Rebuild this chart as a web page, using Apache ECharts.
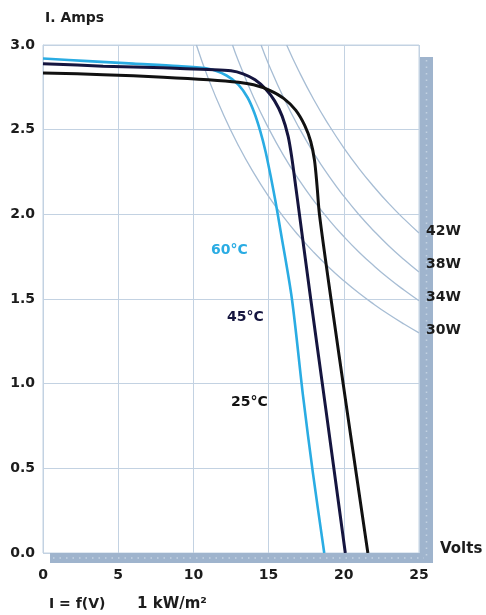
<!DOCTYPE html>
<html><head><meta charset="utf-8">
<script src="https://cdn.jsdelivr.net/npm/echarts@6/dist/echarts.min.js"></script>
<style>html,body{margin:0;padding:0;background:#fff}#c{width:486px;height:615px}</style>
</head><body><div id="c"></div>
<script>
// ---- data (Volts, Amps) ----
const xTicks = [0, 5, 10, 15, 20, 25];
const yTicks = [0, 0.5, 1.0, 1.5, 2.0, 2.5, 3.0];
const tempNames = ['25°C', '45°C', '60°C'];
const curve25 = [[0,2.835],[4,2.825],[8,2.81],[11,2.795],[13,2.78],[14,2.765],[15,2.735],[16,2.685],[16.8,2.615],[17.4,2.525],[17.8,2.43],[18.05,2.32],[18.22,2.17],[18.38,2.0],[19.15,1.5],[20.25,0.82],[21.6,0]];
const curve45 = [[0,2.89],[4,2.875],[8,2.865],[11,2.855],[12.5,2.848],[13.3,2.83],[14.1,2.795],[14.8,2.74],[15.4,2.67],[15.9,2.58],[16.3,2.46],[16.55,2.33],[16.75,2.2],[16.9,2.1],[17.8,1.5],[18.85,0.82],[20.1,0]];
const curve60 = [[0,2.92],[3,2.905],[6,2.89],[9,2.875],[11,2.86],[12.2,2.82],[13.0,2.765],[13.6,2.69],[14.05,2.6],[14.45,2.49],[14.8,2.37],[15.15,2.22],[15.45,2.08],[15.8,1.9],[16.55,1.5],[17.3,0.92],[17.95,0.47],[18.7,0]];
const powerNames = ['30W', '34W', '38W', '42W'];
const power30 = [[10.2,3.0],[11,2.8],[12,2.588],[13,2.405],[14,2.246],[15,2.106],[16,1.983],[17,1.874],[18,1.776],[19,1.688],[20,1.608],[21,1.535],[22,1.469],[23,1.408],[24,1.352],[25,1.3]];
const power34 = [[12.6,3.0],[13,2.904],[14,2.691],[15,2.508],[16,2.347],[17,2.206],[18,2.081],[19,1.969],[20,1.869],[21,1.778],[22,1.696],[23,1.621],[24,1.553],[25,1.49]];
const power38 = [[14.5,3.0],[15,2.887],[16,2.688],[17,2.515],[18,2.362],[19,2.227],[20,2.107],[21,1.999],[22,1.902],[23,1.813],[24,1.733],[25,1.659]];
const power42 = [[16.2,3.0],[17,2.848],[18,2.678],[19,2.528],[20,2.393],[21,2.272],[22,2.163],[23,2.063],[24,1.973],[25,1.89]];

const FONT = 'DejaVu Sans';
const GRID = '#c3d2e2';
const BAR = '#9fb4cd';
const INK = '#1c1c1c';
const chart = echarts.init(document.getElementById('c'), null, {renderer: 'canvas'});

function powerSeries(name, data) {
  return {name, type: 'line', data, showSymbol: false, smooth: 0.5,
    lineStyle: {color: '#a7bdd4', width: 1.3}, z: 2, silent: true};
}
function ivSeries(name, data, color, w) {
  return {name, type: 'line', data, showSymbol: false, smooth: 0.3,
    lineStyle: {color, width: w}, z: 5, silent: true};
}

chart.setOption({
  animation: false,
  backgroundColor: '#fff',
  grid: {left: 43, right: 67, top: 45, bottom: 62, show: true, borderColor: GRID, borderWidth: 1},
  xAxis: {type: 'value', min: 0, max: 25, interval: 5,
    axisLine: {show: false}, axisTick: {show: false},
    splitLine: {show: true, lineStyle: {color: GRID, width: 1}},
    axisLabel: {margin: 15, color: INK, fontFamily: FONT, fontWeight: 'bold', fontSize: 14,
      formatter: v => xTicks.includes(v) ? String(v) : ''}},
  yAxis: {type: 'value', min: 0, max: 3, interval: 0.5,
    axisLine: {show: true, lineStyle: {color: GRID, width: 1}}, axisTick: {show: false},
    splitLine: {show: true, lineStyle: {color: GRID, width: 1}},
    axisLabel: {margin: 8, color: INK, fontFamily: FONT, fontWeight: 'bold', fontSize: 14,
      formatter: v => yTicks.includes(v) ? v.toFixed(1) : ''}},
  series: [
    powerSeries(powerNames[0], power30),
    powerSeries(powerNames[1], power34),
    powerSeries(powerNames[2], power38),
    powerSeries(powerNames[3], power42),
    ivSeries(tempNames[2], curve60, '#2aace3', 2.6),
    ivSeries(tempNames[1], curve45, '#15153f', 3),
    ivSeries(tempNames[0], curve25, '#111111', 3)
  ]
});

const p0 = chart.convertToPixel({gridIndex: 0}, [0, 0]);
const pTop = chart.convertToPixel({gridIndex: 0}, [25, 3]);
const txt = (text, x, y, color, size, weight, align) => ({type: 'text', z: 100,
  style: {text, x, y, fill: color, font: `${weight} ${size}px "${FONT}"`, textAlign: align || 'left', textVerticalAlign: 'middle'}});

chart.setOption({graphic: [
  {type: 'rect', z: 50, shape: {x: pTop[0] + 1, y: pTop[1] + 12, width: 13, height: p0[1] + 10 - (pTop[1] + 12)}, style: {fill: BAR}},
  {type: 'rect', z: 50, shape: {x: p0[0] + 7, y: p0[1], width: pTop[0] + 14 - (p0[0] + 7), height: 10}, style: {fill: BAR}},
  {type: 'line', z: 51, shape: {x1: pTop[0] + 7.5, y1: pTop[1] + 15, x2: pTop[0] + 7.5, y2: p0[1] + 5}, style: {stroke: '#c4d2e2', lineWidth: 1.5, lineDash: [1.5, 5]}},
  {type: 'line', z: 51, shape: {x1: p0[0] + 10, y1: p0[1] + 5, x2: pTop[0] + 5, y2: p0[1] + 5}, style: {stroke: '#c4d2e2', lineWidth: 1.5, lineDash: [1.5, 5]}},
  txt('I. Amps', 45, 18, INK, 14, 'bold'),
  txt('Volts', 440, 549, INK, 15, 'bold'),
  txt('I = f(V)', 49, 604, INK, 14, 'bold'),
  txt('1 kW/m²', 137, 604, INK, 15, 'bold'),
  txt(tempNames[2], 211, 250, '#2aace3', 14, '600'),
  txt(tempNames[1], 227, 317, '#15153f', 14, 'bold'),
  txt(tempNames[0], 231, 402, '#111111', 14, 'bold'),
  txt(powerNames[3], 426, 231, INK, 14, 'bold'),
  txt(powerNames[2], 426, 264, INK, 14, 'bold'),
  txt(powerNames[1], 426, 297, INK, 14, 'bold'),
  txt(powerNames[0], 426, 330, INK, 14, 'bold')
]});
</script></body></html>
